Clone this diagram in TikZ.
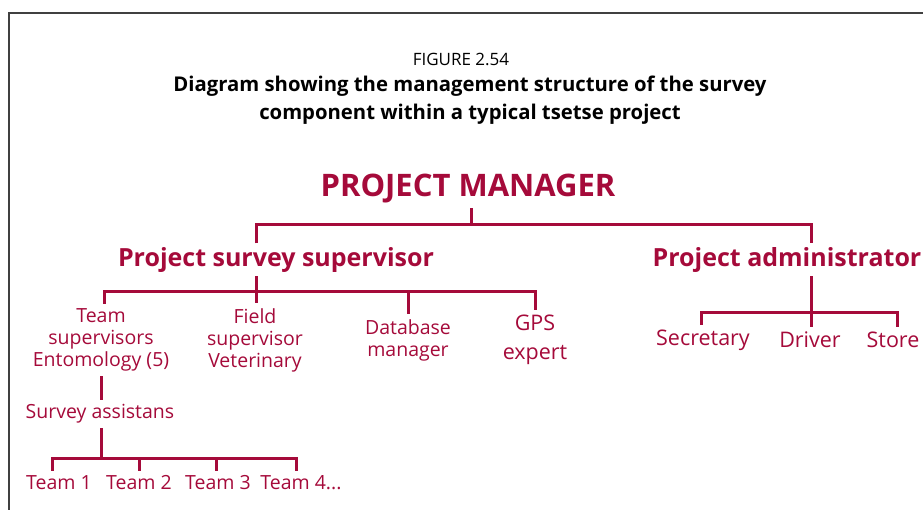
\documentclass[tikz,border=0pt]{standalone}
\usepackage{fontspec}
\setmainfont{Open Sans}
\usetikzlibrary{positioning}
\definecolor{faored}{RGB}{165,10,58}

\begin{document}
\begin{tikzpicture}[
x=1pt, y=-1pt,
caption/.style={inner sep=0pt, align=center, text=black},
boss/.style={text=faored, inner sep=0pt, outer sep=5pt, font=\bfseries\fontsize{31}{36}\selectfont},
head/.style={text=faored, inner sep=0pt, outer sep=4pt, font=\bfseries\fontsize{25}{30}\selectfont},
lbl/.style={text=faored, inner sep=0pt, outer sep=5pt, align=center, font=\fontsize{19.5}{22}\selectfont},
big/.style={lbl, font=\fontsize{21.5}{29}\selectfont},
link/.style={draw=faored, line width=3pt}
]
\useasboundingbox (0,0) rectangle (923,510);
\draw[line width=2pt, black!75] (8.5,510) |- (923,13);

\node[caption, font=\fontsize{17}{20}\selectfont] (fig) at (461,59) {FIGURE 2.54};
\node[caption, font=\bfseries\fontsize{20.3}{28}\selectfont] (cap) at (470,100)
  {Diagram showing the management structure of the survey\\component within a typical tsetse project};

\node[boss] (pm) at (468,189) {PROJECT MANAGER};
\node[head] (pss) at (276,260) {Project survey supervisor};
\node[head] (pa) at (787,260) {Project administrator};

\node[lbl] (ts) at (101,340) {Team\\supervisors\\Entomology (5)};
\node[lbl] (fs) at (255,340) {Field\\supervisor\\Veterinary};
\node[lbl] (db) at (408,340) {Database\\manager};
\node[big] (gps) at (535,340) {GPS\\expert};
\node[big] (sec) at (703,340) {Secretary};
\node[big] (drv) at (810,340) {Driver};
\node[big] (sto) at (893,340) {Store};
\node[lbl] (sa) at (100,414) {Survey assistans};
\node[lbl] (t1) at (59,483) {Team 1};
\node[lbl] (t2) at (139,483) {Team 2};
\node[lbl] (t3) at (218,483) {Team 3};
\node[lbl] (t4) at (301,483) {Team 4...};

\coordinate (b0) at (471,225);
\coordinate (b1) at (256,292);
\coordinate (b2) at (811,313);
\coordinate (b3) at (101,458);

% manager level
\draw[link] (pm.south -| b0) -- (b0);
\draw[link] (pss.north -| b1) |- (b0) -| (pa.north -| b2);

% survey branch
\draw[link] (pss.south -| b1) -- (b1);
\draw[link] ([xshift=3pt]ts.north) |- (b1) -| (gps.north);
\draw[link] (b1) -- (b1 |- fs.north);
\draw[link] (b1 -| db.north) -- (db.north);
\draw[link] (ts.south -| b3) -- (sa.north -| b3);
\draw[link] (sa.south -| b3) -- (b3);
\draw[link] ([xshift=-7pt]t1.north) |- (b3) -| ([xshift=-5pt]t4.north);
\draw[link] (b3 -| t2.north) -- (t2.north);
\draw[link] ([xshift=-2pt]b3 -| t3.north) -- ([xshift=-2pt]t3.north);

% admin branch
\draw[link] (pa.south -| b2) -- (b2);
\draw[link] ([xshift=-2pt]sec.north) |- (b2) -| ([xshift=4pt]sto.north);
\draw[link] (b2) -- (b2 |- drv.north);
\end{tikzpicture}
\end{document}
